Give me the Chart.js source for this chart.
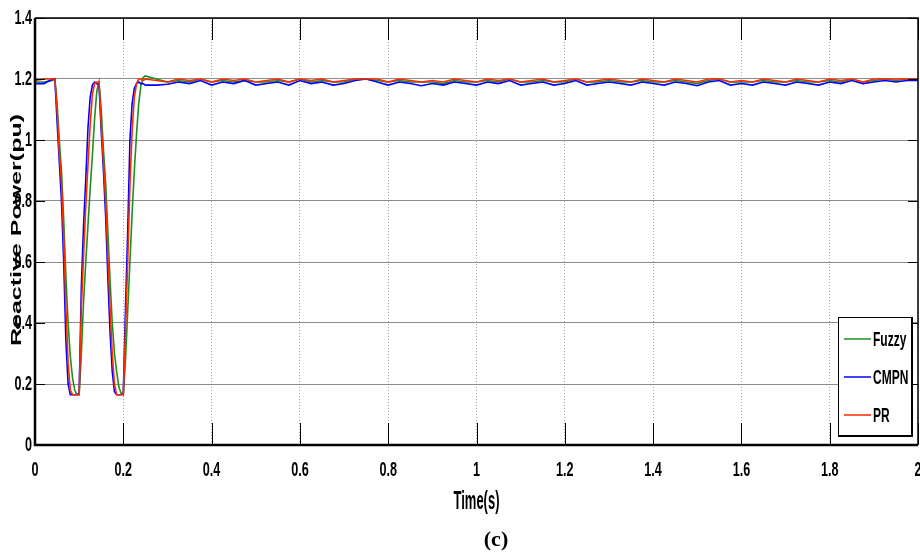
<!DOCTYPE html>
<html>
<head>
<meta charset="utf-8">
<script src="https://cdn.jsdelivr.net/npm/chart.js@4.4.1/dist/chart.umd.min.js"></script>
<style>
  html, body { margin: 0; padding: 0; background: #fff; }
  #wrap { width: 920px; height: 554px; }
</style>
</head>
<body>
<div id="wrap"><canvas id="chart"></canvas></div>
<script>
// time axis (s)
const timeS = [
  0, 0.02, 0.04, 0.045, 0.05, 0.055, 0.06, 0.065, 0.07, 0.075, 0.08, 0.085, 0.09, 0.095, 0.1,
  0.105, 0.11, 0.115, 0.12, 0.125, 0.13, 0.135, 0.14, 0.145, 0.15, 0.155, 0.16, 0.165, 0.17, 0.175,
  0.18, 0.185, 0.19, 0.195, 0.2, 0.205, 0.21, 0.215, 0.22, 0.225, 0.23, 0.235, 0.24, 0.245, 0.25,
  0.275, 0.3, 0.325, 0.35, 0.375, 0.4, 0.425, 0.45, 0.475, 0.5,
  0.525, 0.55, 0.575, 0.6, 0.625, 0.65, 0.675, 0.7, 0.725, 0.75,
  0.775, 0.8, 0.825, 0.85, 0.875, 0.9, 0.925, 0.95, 0.975, 1.0,
  1.025, 1.05, 1.075, 1.1, 1.125, 1.15, 1.175, 1.2, 1.225, 1.25,
  1.275, 1.3, 1.325, 1.35, 1.375, 1.4, 1.425, 1.45, 1.475, 1.5,
  1.525, 1.55, 1.575, 1.6, 1.625, 1.65, 1.675, 1.7, 1.725, 1.75,
  1.775, 1.8, 1.825, 1.85, 1.875, 1.9, 1.925, 1.95, 1.975, 2.0
]

// reactive power (pu)
const fuzzyQ = [
  1.19, 1.19, 1.195, 1.2, 1.12, 1.0, 0.9, 0.74, 0.55, 0.4, 0.29, 0.22, 0.18, 0.165, 0.165,
  0.3, 0.47, 0.6, 0.72, 0.84, 0.95, 1.07, 1.16, 1.19, 1.1, 0.97, 0.86, 0.7, 0.54, 0.4,
  0.3, 0.24, 0.19, 0.17, 0.165, 0.28, 0.44, 0.6, 0.76, 0.9, 1.02, 1.12, 1.18, 1.205, 1.21,
  1.2, 1.19, 1.195, 1.19, 1.2, 1.19, 1.195, 1.19, 1.195, 1.19,
  1.19, 1.195, 1.19, 1.2, 1.19, 1.195, 1.19, 1.19, 1.2, 1.2,
  1.195, 1.19, 1.195, 1.19, 1.19, 1.19, 1.185, 1.195, 1.19, 1.19,
  1.195, 1.19, 1.2, 1.19, 1.19, 1.195, 1.19, 1.19, 1.2, 1.19,
  1.19, 1.195, 1.19, 1.19, 1.195, 1.19, 1.19, 1.195, 1.19, 1.185,
  1.195, 1.2, 1.19, 1.19, 1.19, 1.195, 1.19, 1.19, 1.195, 1.19,
  1.19, 1.195, 1.19, 1.2, 1.19, 1.195, 1.2, 1.195, 1.2, 1.2
]

const cmpnQ = [
  1.185, 1.185, 1.2, 1.2, 1.06, 0.93, 0.8, 0.6, 0.34, 0.2, 0.165, 0.165, 0.165, 0.165, 0.17,
  0.52, 0.72, 0.87, 1.04, 1.14, 1.18, 1.19, 1.185, 1.18, 1.03, 0.9, 0.75, 0.55, 0.37, 0.24,
  0.175, 0.165, 0.165, 0.165, 0.17, 0.45, 0.7, 1.0, 1.12, 1.17, 1.185, 1.19, 1.185, 1.185, 1.18,
  1.18, 1.183, 1.19, 1.185, 1.195, 1.18, 1.19, 1.185, 1.195, 1.18,
  1.185, 1.19, 1.18, 1.195, 1.185, 1.19, 1.18, 1.185, 1.195, 1.2,
  1.19, 1.18, 1.19, 1.185, 1.178, 1.185, 1.18, 1.19, 1.185, 1.18,
  1.19, 1.185, 1.195, 1.18, 1.185, 1.19, 1.18, 1.185, 1.195, 1.18,
  1.185, 1.19, 1.185, 1.18, 1.19, 1.185, 1.18, 1.19, 1.185, 1.178,
  1.19, 1.195, 1.18, 1.185, 1.18, 1.19, 1.185, 1.18, 1.19, 1.185,
  1.18, 1.19, 1.185, 1.195, 1.185, 1.19, 1.195, 1.19, 1.195, 1.195
]

const prQ = [
  1.195, 1.2, 1.2, 1.2, 1.1, 0.96, 0.86, 0.68, 0.45, 0.27, 0.18, 0.165, 0.165, 0.165, 0.165,
  0.45, 0.62, 0.78, 0.92, 1.05, 1.15, 1.185, 1.19, 1.19, 1.05, 0.93, 0.8, 0.62, 0.45, 0.3,
  0.2, 0.165, 0.165, 0.165, 0.165, 0.38, 0.6, 0.85, 1.03, 1.14, 1.185, 1.2, 1.2, 1.195, 1.2,
  1.195, 1.19, 1.2, 1.195, 1.2, 1.19, 1.2, 1.195, 1.2, 1.19,
  1.195, 1.2, 1.19, 1.2, 1.195, 1.2, 1.19, 1.195, 1.2, 1.2,
  1.2, 1.19, 1.2, 1.195, 1.19, 1.195, 1.19, 1.2, 1.195, 1.19,
  1.2, 1.195, 1.2, 1.19, 1.195, 1.2, 1.19, 1.195, 1.2, 1.19,
  1.195, 1.2, 1.195, 1.19, 1.2, 1.195, 1.19, 1.2, 1.195, 1.19,
  1.2, 1.2, 1.19, 1.195, 1.19, 1.2, 1.195, 1.19, 1.2, 1.195,
  1.19, 1.2, 1.195, 1.2, 1.19, 1.2, 1.2, 1.2, 1.2, 1.2
]

const seriesNames = ["Fuzzy", "CMPN", "PR"]
const seriesColors = ["#1f8f1f", "#0000ff", "#ff2a00"]
const xTicks = [0, 0.2, 0.4, 0.6, 0.8, 1, 1.2, 1.4, 1.6, 1.8, 2]
const yTicks = [0, 0.2, 0.4, 0.6, 0.8, 1, 1.2, 1.4]

const sans = "'Liberation Sans', Arial, sans-serif"

function toPoints(values) {
  return values.map((v, i) => ({ x: timeS[i], y: v }))
}

function createLineDataset(values, label, color, order) {
  return {
    label: label,
    data: toPoints(values),
    borderColor: color,
    backgroundColor: color,
    borderWidth: 1.6,
    pointRadius: 0,
    showLine: true,
    fill: false,
    tension: 0,
    order: order,
  }
}

// the source figure is squashed sideways, so the text is drawn narrow
function squeezeText(ctx, sx, draw) {
  const rotate = ctx.rotate
  ctx.rotate = function (a) { rotate.call(this, a); this.scale(sx, 1) }
  try { draw() } finally { ctx.rotate = rotate }
}

function squeezeScale(scale, labelsSx, titleSx) {
  if (scale._squeezed) return
  const drawLabels = scale.drawLabels
  const drawTitle = scale.drawTitle
  scale.drawLabels = function (area) { squeezeText(this.ctx, labelsSx, () => drawLabels.call(this, area)) }
  scale.drawTitle = function () { squeezeText(this.ctx, titleSx, () => drawTitle.call(this)) }
  scale._squeezed = true
}

// frame, inward ticks, legend box and side texts, matlab style
const matlabLook = {
  id: "matlabLook",
  beforeDraw(chart) {
    squeezeScale(chart.scales.x, 0.6, 0.5)
    squeezeScale(chart.scales.y, 0.6, 0.5)
  },
  afterDatasetsDraw(chart) {
    const { ctx, chartArea: a, scales } = chart
    ctx.save()
    ctx.strokeStyle = "#000"

    ctx.lineWidth = 1
    xTicks.forEach(t => {
      const x = Math.round(scales.x.getPixelForValue(t)) + 0.5
      ctx.beginPath()
      ctx.moveTo(x, a.bottom); ctx.lineTo(x, a.bottom - 22)
      ctx.moveTo(x, a.top); ctx.lineTo(x, a.top + 22)
      ctx.stroke()
    })
    yTicks.forEach(t => {
      const y = Math.round(scales.y.getPixelForValue(t)) + 0.5
      ctx.beginPath()
      ctx.moveTo(a.left, y); ctx.lineTo(a.left + 10, y)
      ctx.moveTo(a.right, y); ctx.lineTo(a.right - 10, y)
      ctx.stroke()
    })

    ctx.lineWidth = 1.5
    ctx.beginPath()
    ctx.moveTo(a.left, a.top); ctx.lineTo(a.right, a.top); ctx.lineTo(a.right, a.bottom)
    ctx.stroke()
    ctx.lineWidth = 2.5
    ctx.beginPath()
    ctx.moveTo(a.left, a.top); ctx.lineTo(a.left, a.bottom); ctx.lineTo(a.right, a.bottom)
    ctx.stroke()

    // legend
    const bx = 838, by = 317, bw = 73, bh = 118
    ctx.fillStyle = "#fff"
    ctx.fillRect(bx, by, bw, bh)
    ctx.lineWidth = 1
    ctx.strokeRect(bx + 0.5, by + 0.5, bw, bh)
    ctx.lineWidth = 2
    ctx.beginPath()
    ctx.moveTo(bx, by + bh + 1); ctx.lineTo(bx + bw + 1, by + bh + 1); ctx.lineTo(bx + bw + 1, by)
    ctx.stroke()
    ctx.font = "bold 20px " + sans
    ctx.textBaseline = "middle"
    ctx.textAlign = "left"
    chart.data.datasets.forEach((ds, i) => {
      const y = by + 22 + i * 38
      ctx.strokeStyle = ds.borderColor
      ctx.lineWidth = 1.5
      ctx.beginPath()
      ctx.moveTo(bx + 6, y); ctx.lineTo(bx + 33, y)
      ctx.stroke()
      ctx.save()
      ctx.translate(bx + 35, y + 1)
      ctx.scale(0.6, 1)
      ctx.fillStyle = "#000"
      ctx.fillText(ds.label, 0, 0)
      ctx.restore()
    })
    ctx.restore()
  },
  afterDraw(chart) {
    const { ctx } = chart
    ctx.save()
    ctx.fillStyle = "#000"
    ctx.textAlign = "center"
    ctx.textBaseline = "middle"
    ctx.translate(17, 230)
    ctx.rotate(-Math.PI / 2)
    ctx.scale(1, 0.62)
    ctx.font = "bold 25px " + sans
    ctx.fillText("Reactive Power(pu)", 0, 0)
    ctx.restore()

    ctx.save()
    ctx.fillStyle = "#000"
    ctx.textAlign = "center"
    ctx.textBaseline = "middle"
    ctx.font = "bold 22px 'Liberation Serif', 'Times New Roman', serif"
    ctx.fillText("(c)", 496, 540)
    ctx.restore()
  }
}

const chart = new Chart(document.getElementById("chart"), {
  type: "scatter",
  data: {
    datasets: [
      createLineDataset(fuzzyQ, seriesNames[0], seriesColors[0], 2),
      createLineDataset(cmpnQ, seriesNames[1], seriesColors[1], 1),
      createLineDataset(prQ, seriesNames[2], seriesColors[2], 0),
    ],
  },
  options: {
    responsive: true,
    maintainAspectRatio: false,
    animation: false,
    layout: { padding: { top: 18, right: 2, bottom: 0, left: 0 } },
    plugins: {
      legend: { display: false },
      tooltip: { enabled: false },
    },
    scales: {
      x: {
        type: "linear",
        min: 0,
        max: 2,
        afterBuildTicks: s => { s.ticks = xTicks.map(v => ({ value: v })) },
        afterFit: s => { s.height = 109; s.paddingLeft = 0; s.paddingRight = 0 },
        grid: { color: "#a8a8a8", lineWidth: 1, drawTicks: false },
        border: { display: false, dash: [1, 2] },
        ticks: {
          color: "#000",
          padding: 13,
          maxRotation: 0,
          autoSkip: false,
          font: { family: sans, size: 21, weight: "bold" },
          callback: v => String(Number(v.toFixed(1))),
        },
        title: {
          display: true,
          text: "Time(s)",
          color: "#000",
          font: { family: sans, size: 26, weight: "bold" },
          padding: { top: 0, bottom: 37 },
        },
      },
      y: {
        min: 0,
        max: 1.4,
        afterBuildTicks: s => { s.ticks = yTicks.map(v => ({ value: v })) },
        afterFit: s => { s.width = 35; s.paddingTop = 0; s.paddingBottom = 0 },
        grid: { color: "#8c8c8c", lineWidth: 1, drawTicks: false },
        border: { display: false },
        ticks: {
          color: "#000",
          padding: 3,
          autoSkip: false,
          font: { family: sans, size: 21, weight: "bold" },
          callback: v => String(Number(v.toFixed(1))),
        },
      },
    },
  },
  plugins: [matlabLook],
})
</script>
</body>
</html>
